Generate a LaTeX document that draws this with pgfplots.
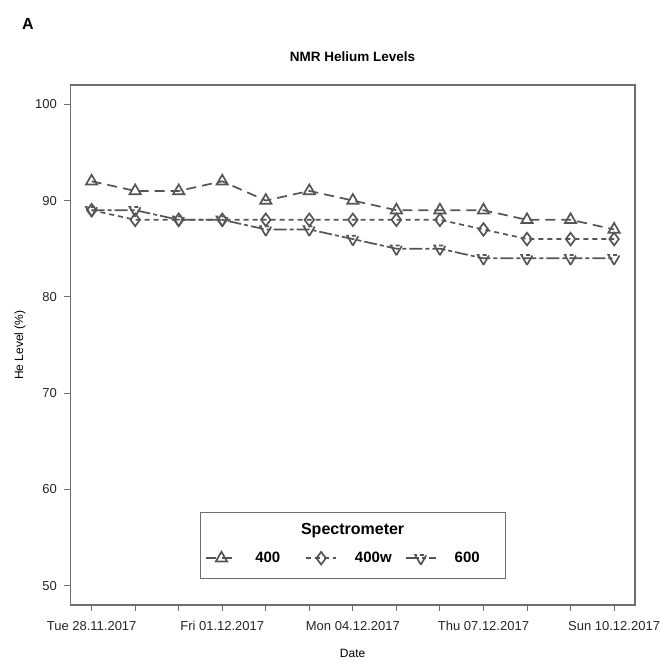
\documentclass[border=0pt]{standalone}
\usepackage{fontspec}
\setmainfont{Liberation Sans}
\usepackage{pgfplots}
\usepackage{pgfplotstable}
\pgfplotsset{compat=1.18}
\definecolor{ln}{RGB}{85,85,85}
\definecolor{fr}{RGB}{110,110,110}

\pgfplotstableread{
day he400 he400w he600
0 92 89 89
1 91 88 89
2 91 88 88
3 92 88 88
4 90 88 87
5 91 88 87
6 90 88 86
7 89 88 85
8 89 88 85
9 89 87 84
10 88 86 84
11 88 86 84
12 87 86 84
}\helium

\begin{document}
\begin{tikzpicture}[x=1pt,y=1pt]
\useasboundingbox (0,0) rectangle (660,662);
\begin{axis}[at={(70.3pt,57pt)}, anchor=south west, scale only axis,
  width=564.7pt, height=520pt,
  xmin=-0.49, xmax=12.48, ymin=48, ymax=102,
  xtick={0,...,12},
  xticklabels={Tue 28.11.2017,,,Fri 01.12.2017,,,Mon 04.12.2017,,,Thu 07.12.2017,,,Sun 10.12.2017},
  ytick={50,60,...,100},
  xtick pos=bottom, ytick pos=left, tick align=outside, major tick length=6pt,
  axis line style={fr, line width=1.2pt}, tick style={fr, line width=1pt},
  /pgf/number format/assume math mode=true,
  tick label style={font=\fontsize{13}{15}\selectfont, text=black!85},
  xticklabel style={text height=9.5pt, text depth=2.5pt, yshift=-6pt},
  yticklabel style={xshift=-4pt},
  xlabel={Date}, ylabel={He Level (\%)},
  label style={font=\fontsize{12}{14}\selectfont},
  xlabel style={at={(axis description cs:0.5,-0.094)}, anchor=center},
  ylabel style={at={(axis description cs:-0.089,0.5)}, anchor=center},
  legend columns=3,
  legend style={at={(0.5,0.09)}, anchor=center, draw=none, fill=none,
    font=\bfseries\fontsize{15}{18}\selectfont,
    /tikz/every odd column/.append style={column sep=18pt},
    /tikz/every even column/.append style={column sep=5pt},
    nodes={text width=45pt, align=left, inner sep=0pt}},
  legend image code/.code={\draw[mark repeat=2,mark phase=2] plot coordinates {(0pt,0pt) (15pt,0pt) (30pt,0pt)};},
  every axis plot/.append style={ln, line width=1.7pt, mark size=6.5pt,
    mark options={solid, line width=1.7pt, fill=white}},
]
\addplot[mark=triangle, dash pattern=on 10pt off 6pt] table[x=day, y=he400] {\helium};
\addlegendentry{400}
\addplot[mark=diamond, mark size=6.3pt, dash pattern=on 5pt off 4pt] table[x=day, y=he400w] {\helium};
\addlegendentry{400w}
\addplot[mark=triangle, mark options={rotate=180}, dash pattern=on 13pt off 3pt on 4pt off 3pt] table[x=day, y=he600] {\helium};
\addlegendentry{600}
\draw[fr, line width=1pt] (rel axis cs:0.23,0.05) rectangle (rel axis cs:0.77,0.177);
\node[font=\bfseries\fontsize{16}{19}\selectfont] at (rel axis cs:0.5,0.144) {Spectrometer};
\end{axis}
\node[font=\bfseries\fontsize{13.5}{16}\selectfont] at (352.6,605) {NMR Helium Levels};
\node[font=\bfseries\fontsize{16}{19}\selectfont] at (28,638) {A};
\end{tikzpicture}
\end{document}
